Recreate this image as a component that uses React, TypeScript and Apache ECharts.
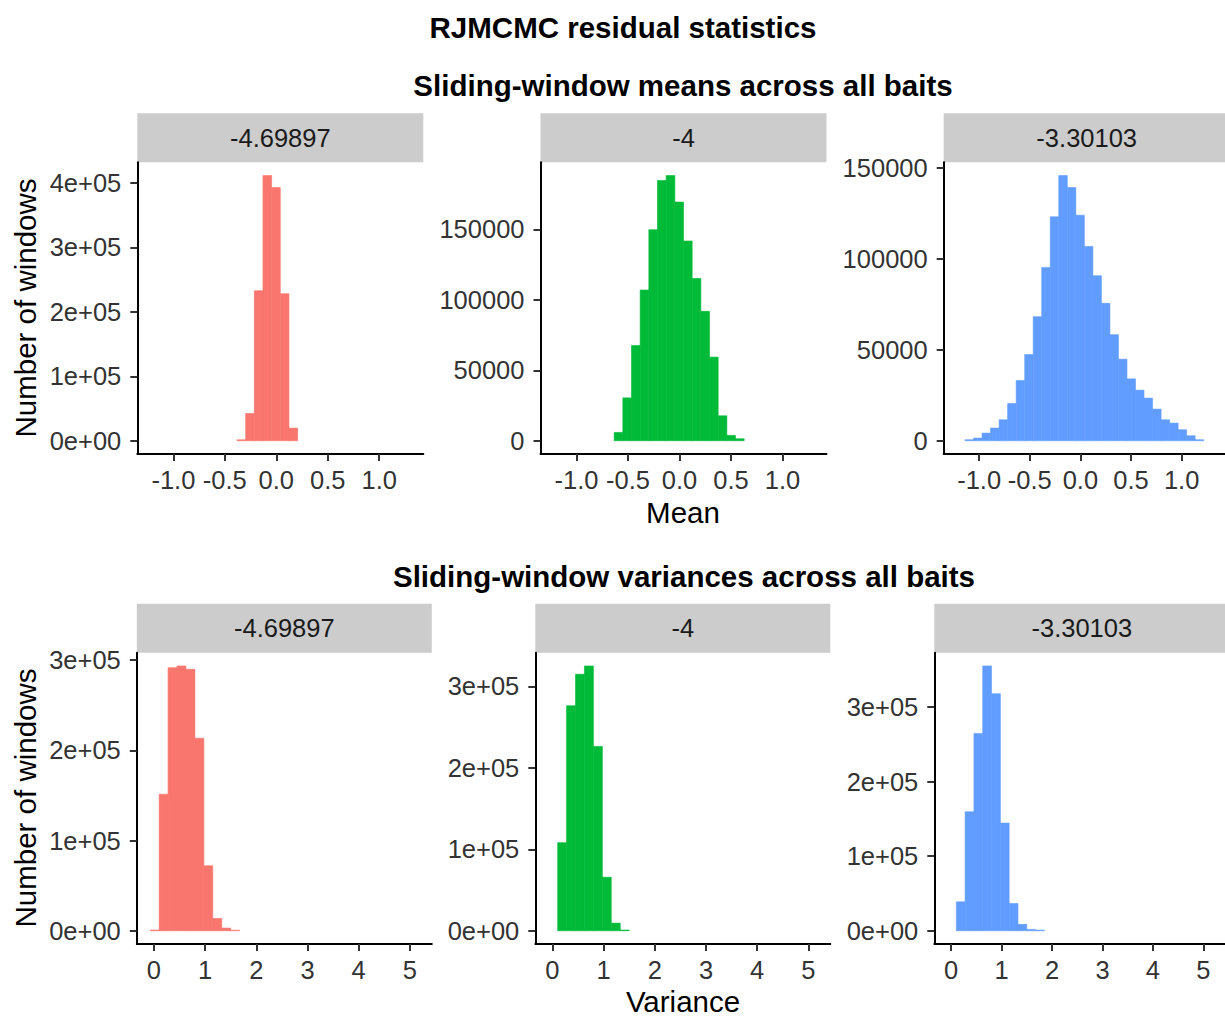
import React, { useEffect, useRef } from "react";
import * as echarts from "echarts";

// ---- histogram bin edges (ggplot stat_bin, 30 bins on the shared x scale) ----
const meanEdges = [
  -1.224, -1.1398, -1.0556, -0.9714, -0.8872, -0.803, -0.7188, -0.6346, -0.5504, -0.4662,
  -0.382, -0.2978, -0.2136, -0.1294, -0.0452, 0.039, 0.1232, 0.2074, 0.2916, 0.3758,
  0.46, 0.5442, 0.6284, 0.7126, 0.7968, 0.881, 0.9652, 1.0494, 1.1336, 1.2178, 1.302,
];
const varianceEdges = [
  -0.072, 0.103, 0.277, 0.452, 0.626, 0.801, 0.976, 1.15, 1.325, 1.499,
  1.674, 1.849, 2.023, 2.198, 2.372, 2.547, 2.722, 2.896, 3.071, 3.245,
  3.42, 3.595, 3.769, 3.944, 4.118, 4.293, 4.468, 4.642, 4.817, 4.991, 5.166,
];

const facetLabels = ["-4.69897", "-4", "-3.30103"];
const facetColors = ["#F8766D", "#00BA38", "#619CFF"];

// ---- counts per bin (index = bin number) ----
const meanCountsA = [0, 0, 0, 0, 0, 0, 0, 0, 0, 0, 1500, 42300, 232700, 411300, 392700, 228000, 19600];
const meanCountsB = [0, 0, 0, 0, 0, 0, 0, 5900, 30400, 67600, 106900, 149700, 184600, 188100, 169300, 141700, 115100, 91800, 59300, 17700, 3800, 1400];
const meanCountsC = [0, 550, 1460, 4200, 6950, 11500, 20460, 33070, 47330, 68150, 95210, 122990, 145650, 139070, 123900, 106730, 90640, 75490, 58280, 44790, 33990, 27790, 23410, 17380, 11510, 9690, 6030, 2740, 550];
const varCountsA = [800, 151400, 291600, 293500, 289800, 213400, 72000, 13600, 3000, 600];
const varCountsB = [0, 108200, 276300, 315000, 325200, 226400, 65700, 9400, 900];
const varCountsC = [0, 38800, 159600, 264700, 355200, 317800, 144400, 36600, 8600, 1800, 900];

// ---- tick values / labels ----
const meanXTicks = [-1, -0.5, 0, 0.5, 1];
const meanXLabels = ["-1.0", "-0.5", "0.0", "0.5", "1.0"];
const varXTicks = [0, 1, 2, 3, 4, 5];
const varXLabels = ["0", "1", "2", "3", "4", "5"];
const yTicksSci4 = [0, 100000, 200000, 300000, 400000];
const yLabelsSci4 = ["0e+00", "1e+05", "2e+05", "3e+05", "4e+05"];
const yTicksPlain = [0, 50000, 100000, 150000];
const yLabelsPlain = ["0", "50000", "100000", "150000"];
const yTicksSci3 = [0, 100000, 200000, 300000];
const yLabelsSci3 = ["0e+00", "1e+05", "2e+05", "3e+05"];

const FONT = "'Liberation Sans', Arial, Helvetica, sans-serif";

function expand(lo: number, hi: number) {
  const r = hi - lo;
  return [lo - 0.05 * r, hi + 0.05 * r];
}

export default function App() {
  const ref = useRef<HTMLDivElement>(null);

  useEffect(() => {
    if (!ref.current) return;
    const chart = echarts.init(ref.current, undefined, { renderer: "svg" });

    const panels = [
      { edges: meanEdges, counts: meanCountsA, xt: meanXTicks, xl: meanXLabels, yt: yTicksSci4, yl: yLabelsSci4, left: 137.3, top: 162.3, width: 286, height: 291.7, c: 0 },
      { edges: meanEdges, counts: meanCountsB, xt: meanXTicks, xl: meanXLabels, yt: yTicksPlain, yl: yLabelsPlain, left: 540.5, top: 162.3, width: 286, height: 291.7, c: 1 },
      { edges: meanEdges, counts: meanCountsC, xt: meanXTicks, xl: meanXLabels, yt: yTicksPlain, yl: yLabelsPlain, left: 943.7, top: 162.3, width: 286, height: 291.7, c: 2 },
      { edges: varianceEdges, counts: varCountsA, xt: varXTicks, xl: varXLabels, yt: yTicksSci3, yl: yLabelsSci3, left: 136.8, top: 652.7, width: 295, height: 291.3, c: 0 },
      { edges: varianceEdges, counts: varCountsB, xt: varXTicks, xl: varXLabels, yt: yTicksSci3, yl: yLabelsSci3, left: 535.3, top: 652.7, width: 295, height: 291.3, c: 1 },
      { edges: varianceEdges, counts: varCountsC, xt: varXTicks, xl: varXLabels, yt: yTicksSci3, yl: yLabelsSci3, left: 934.3, top: 652.7, width: 295, height: 291.3, c: 2 },
    ];

    const fmt = (ticks: number[], labels: string[]) => (v: number) => {
      for (let i = 0; i < ticks.length; i++) if (Math.abs(ticks[i] - v) < 1e-6) return labels[i];
      return "";
    };

    const grid: any[] = [];
    const xAxis: any[] = [];
    const yAxis: any[] = [];
    const series: any[] = [];
    const graphic: any[] = [];

    panels.forEach((p, i) => {
      grid.push({ left: p.left, top: p.top, width: p.width, height: p.height, containLabel: false });
      const [xmin, xmax] = expand(p.edges[0], p.edges[p.edges.length - 1]);
      const maxCount = Math.max(...p.counts);
      const [ymin, ymax] = expand(0, maxCount);
      xAxis.push({
        type: "value", gridIndex: i, min: xmin, max: xmax,
        axisLine: { show: true, onZero: false, lineStyle: { color: "#000", width: 2 } },
        axisTick: { show: true, length: 7, customValues: p.xt, lineStyle: { color: "#333", width: 2 } },
        axisLabel: { customValues: p.xt, formatter: fmt(p.xt, p.xl), fontSize: 25.5, color: "#333", margin: 13, fontFamily: FONT },
        splitLine: { show: false },
      });
      yAxis.push({
        type: "value", gridIndex: i, min: ymin, max: ymax,
        axisLine: { show: true, onZero: false, lineStyle: { color: "#000", width: 2 } },
        axisTick: { show: true, length: 7, customValues: p.yt, lineStyle: { color: "#333", width: 2 } },
        axisLabel: { customValues: p.yt, formatter: fmt(p.yt, p.yl), fontSize: 25.5, color: "#333", margin: 16, fontFamily: FONT },
        splitLine: { show: false },
      });
      const data: number[][] = [];
      p.counts.forEach((cnt, k) => {
        if (cnt > 0) data.push([p.edges[k], p.edges[k + 1], cnt]);
      });
      const color = facetColors[p.c];
      series.push({
        type: "custom", xAxisIndex: i, yAxisIndex: i, clip: true,
        encode: { x: [0, 1], y: 2 },
        data,
        renderItem: (_params: any, api: any) => {
          const a = api.coord([api.value(0), 0]);
          const b = api.coord([api.value(1), api.value(2)]);
          return {
            type: "rect",
            shape: { x: a[0], y: b[1], width: b[0] - a[0], height: a[1] - b[1] },
            style: { fill: color, stroke: color, lineWidth: 0.6 },
          };
        },
      });
      // strip
      const stripTop = p.top - 49;
      graphic.push({
        type: "rect", silent: true,
        shape: { x: p.left, y: stripTop, width: p.width, height: 49 },
        style: { fill: "#CCCCCC" },
      });
      graphic.push({
        type: "text", silent: true, x: p.left + p.width / 2, y: stripTop + 24.5,
        style: { text: facetLabels[p.c], fontSize: 25.5, fontFamily: FONT, fill: "#1A1A1A", align: "center", verticalAlign: "middle" },
      });
    });

    const titleStyle = { fontSize: 29.5, fontWeight: "bold", fontFamily: FONT, fill: "#000", align: "center", verticalAlign: "middle" };
    graphic.push({ type: "text", x: 623, y: 27, style: { ...titleStyle, text: "RJMCMC residual statistics" } });
    graphic.push({ type: "text", x: 683, y: 85, style: { ...titleStyle, text: "Sliding-window means across all baits" } });
    graphic.push({ type: "text", x: 684, y: 576, style: { ...titleStyle, text: "Sliding-window variances across all baits" } });

    const axisTitle = { fontSize: 29.5, fontFamily: FONT, fill: "#000", align: "center", verticalAlign: "middle" };
    graphic.push({ type: "text", x: 683, y: 512, style: { ...axisTitle, text: "Mean" } });
    graphic.push({ type: "text", x: 683, y: 1001, style: { ...axisTitle, text: "Variance" } });
    graphic.push({ type: "text", x: 25, y: 308, rotation: Math.PI / 2, style: { ...axisTitle, text: "Number of windows" } });
    graphic.push({ type: "text", x: 25, y: 798, rotation: Math.PI / 2, style: { ...axisTitle, text: "Number of windows" } });

    chart.setOption({
      animation: false,
      backgroundColor: "#fff",
      grid, xAxis, yAxis, series, graphic,
    });

    return () => chart.dispose();
  }, []);

  return (
    <div
      ref={ref}
      style={{ position: "absolute", left: 0, top: 0, width: 1225, height: 1017 }}
    />
  );
}
